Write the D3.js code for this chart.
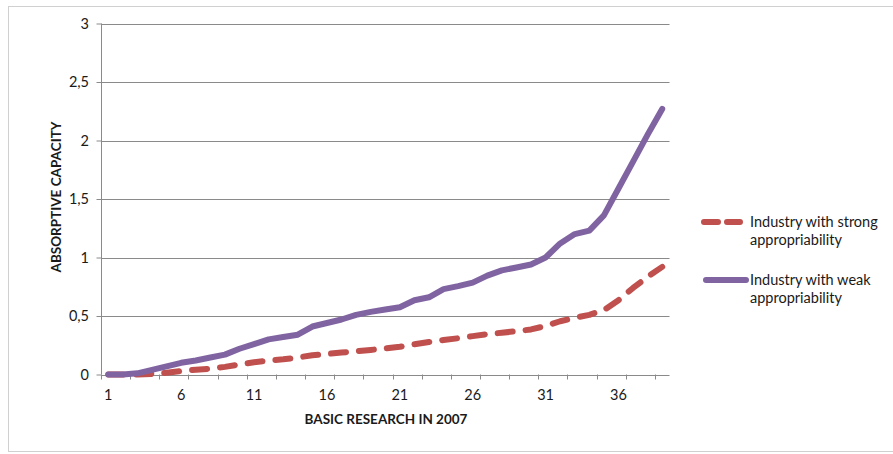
<!DOCTYPE html>
<html>
<head>
<meta charset="utf-8">
<script src="https://cdn.jsdelivr.net/npm/d3@7"></script>
<style>
  html, body { margin: 0; padding: 0; background: #fff; }
  svg { display: block; }
  text { font-family: Lato, "Open Sans", sans-serif; fill: #1a1a1a; }
</style>
</head>
<body>
<svg id="chart" width="893" height="454"></svg>
<script>
const categories = d3.range(1, 40);
const strongValues = [0.00, 0.00, 0.00, 0.005, 0.015, 0.03, 0.04, 0.05, 0.065, 0.085,
  0.105, 0.12, 0.13, 0.145, 0.165, 0.175, 0.188, 0.198, 0.21, 0.222,
  0.237, 0.258, 0.278, 0.295, 0.31, 0.328, 0.345, 0.357, 0.37, 0.385,
  0.415, 0.455, 0.485, 0.51, 0.55, 0.635, 0.74, 0.835, 0.92];
const weakValues = [0.00, 0.00, 0.01, 0.04, 0.07, 0.10, 0.12, 0.145, 0.17, 0.22,
  0.26, 0.30, 0.32, 0.34, 0.41, 0.44, 0.47, 0.51, 0.535, 0.555,
  0.575, 0.635, 0.66, 0.73, 0.755, 0.785, 0.845, 0.89, 0.915, 0.94,
  1.00, 1.12, 1.20, 1.23, 1.36, 1.59, 1.82, 2.05, 2.27];
const yTicks = [0, 0.5, 1, 1.5, 2, 2.5, 3];
const xTickLabels = [1, 6, 11, 16, 21, 26, 31, 36];
const seriesNames = ["Industry with strong appropriability", "Industry with weak appropriability"];
const xTitle = "BASIC RESEARCH IN 2007";
const yTitle = "ABSORPTIVE CAPACITY";

(function () {
const svg = d3.select("#chart");
const pLeft = 101, pRight = 669.5, pTop = 23.5, pBottom = 374.5;
const gridColor = "#8a8a8a";

// outer chart border
svg.append("rect").attr("x", 8.5).attr("y", 6.5).attr("width", 900).attr("height", 445)
  .attr("fill", "none").attr("stroke", "#d0d0d0").attr("stroke-width", 1);

const x = d3.scaleBand().domain(categories).range([pLeft, pRight]).padding(0);
const xc = d => x(d) + x.bandwidth() / 2;
const y = d3.scaleLinear().domain([0, 3]).range([pBottom, pTop]);

// gridlines
svg.append("g").selectAll("line").data(yTicks.filter(d => d > 0)).join("line")
  .attr("x1", pLeft).attr("x2", pRight)
  .attr("y1", d => Math.round(y(d)) + 0.5).attr("y2", d => Math.round(y(d)) + 0.5)
  .attr("stroke", gridColor).attr("stroke-width", 1);

// y axis
const fmt = d => String(d).replace(".", ",");
const yAxis = svg.append("g").attr("transform", `translate(${pLeft + 0.5},0)`)
  .call(d3.axisLeft(y).tickValues(yTicks).tickFormat(fmt).tickSize(5).tickPadding(7.5));
yAxis.select(".domain").attr("stroke", gridColor).attr("d", `M0,${pTop}V${pBottom}`);
yAxis.selectAll(".tick line").attr("stroke", gridColor);
yAxis.selectAll(".tick text").attr("font-size", 14.5).attr("font-family", "Lato, sans-serif").attr("fill", "#1a1a1a");

// x axis line
svg.append("line").attr("x1", pLeft).attr("x2", pRight)
  .attr("y1", Math.round(pBottom) + 0.5).attr("y2", Math.round(pBottom) + 0.5)
  .attr("stroke", gridColor);
// x tick marks at band boundaries every 2 categories
svg.append("g").selectAll("line").data(categories.filter(c => c % 2 === 1)).join("line")
  .attr("x1", d => Math.round(x(d)) + 0.5).attr("x2", d => Math.round(x(d)) + 0.5)
  .attr("y1", pBottom).attr("y2", pBottom + 5)
  .attr("stroke", gridColor);
// x tick labels
const xAxis = svg.append("g").attr("transform", `translate(0,${pBottom})`)
  .call(d3.axisBottom(x).tickValues(xTickLabels).tickSize(0).tickPadding(15));
xAxis.select(".domain").remove();
xAxis.selectAll(".tick text").attr("font-size", 14.5).attr("font-family", "Lato, sans-serif").attr("fill", "#1a1a1a");

// lines
const line = vals => d3.line().x((d, i) => xc(categories[i])).y(d => y(d))(vals);
svg.append("path").attr("d", line(strongValues))
  .attr("fill", "none").attr("stroke", "#c0504d").attr("stroke-width", 6)
  .attr("stroke-linecap", "round").attr("stroke-linejoin", "round")
  .attr("stroke-dasharray", "15,13");
svg.append("path").attr("d", line(weakValues))
  .attr("fill", "none").attr("stroke", "#8064a2").attr("stroke-width", 6)
  .attr("stroke-linecap", "round").attr("stroke-linejoin", "round");

// axis titles
svg.append("text").attr("x", 386).attr("y", 423.5).attr("text-anchor", "middle")
  .attr("font-size", 13.5).attr("font-weight", "bold").text(xTitle);
svg.append("text").attr("transform", "translate(60.5,197) rotate(-90)").attr("text-anchor", "middle")
  .attr("font-size", 13.5).attr("font-weight", "bold").text(yTitle);

// legend
const legend = [
  { name: seriesNames[0], color: "#c0504d", dash: "14,9", y: 222 },
  { name: seriesNames[1], color: "#8064a2", dash: null, y: 280 }
];
const lg = svg.append("g");
legend.forEach(l => {
  const p = lg.append("line").attr("x1", 706).attr("x2", 746).attr("y1", l.y).attr("y2", l.y)
    .attr("stroke", l.color).attr("stroke-width", 6).attr("stroke-linecap", "round");
  if (l.dash) p.attr("x1", 704).attr("x2", 740).attr("stroke-dasharray", l.dash);
  const words = l.name.split(" ");
  const t = lg.append("text").attr("x", 750).attr("y", l.y + 5).attr("font-size", 14.5);
  t.append("tspan").attr("x", 750).text(words.slice(0, 3).join(" "));
  t.append("tspan").attr("x", 750).attr("dy", 18).text(words.slice(3).join(" "));
});
})();
</script>
</body>
</html>
